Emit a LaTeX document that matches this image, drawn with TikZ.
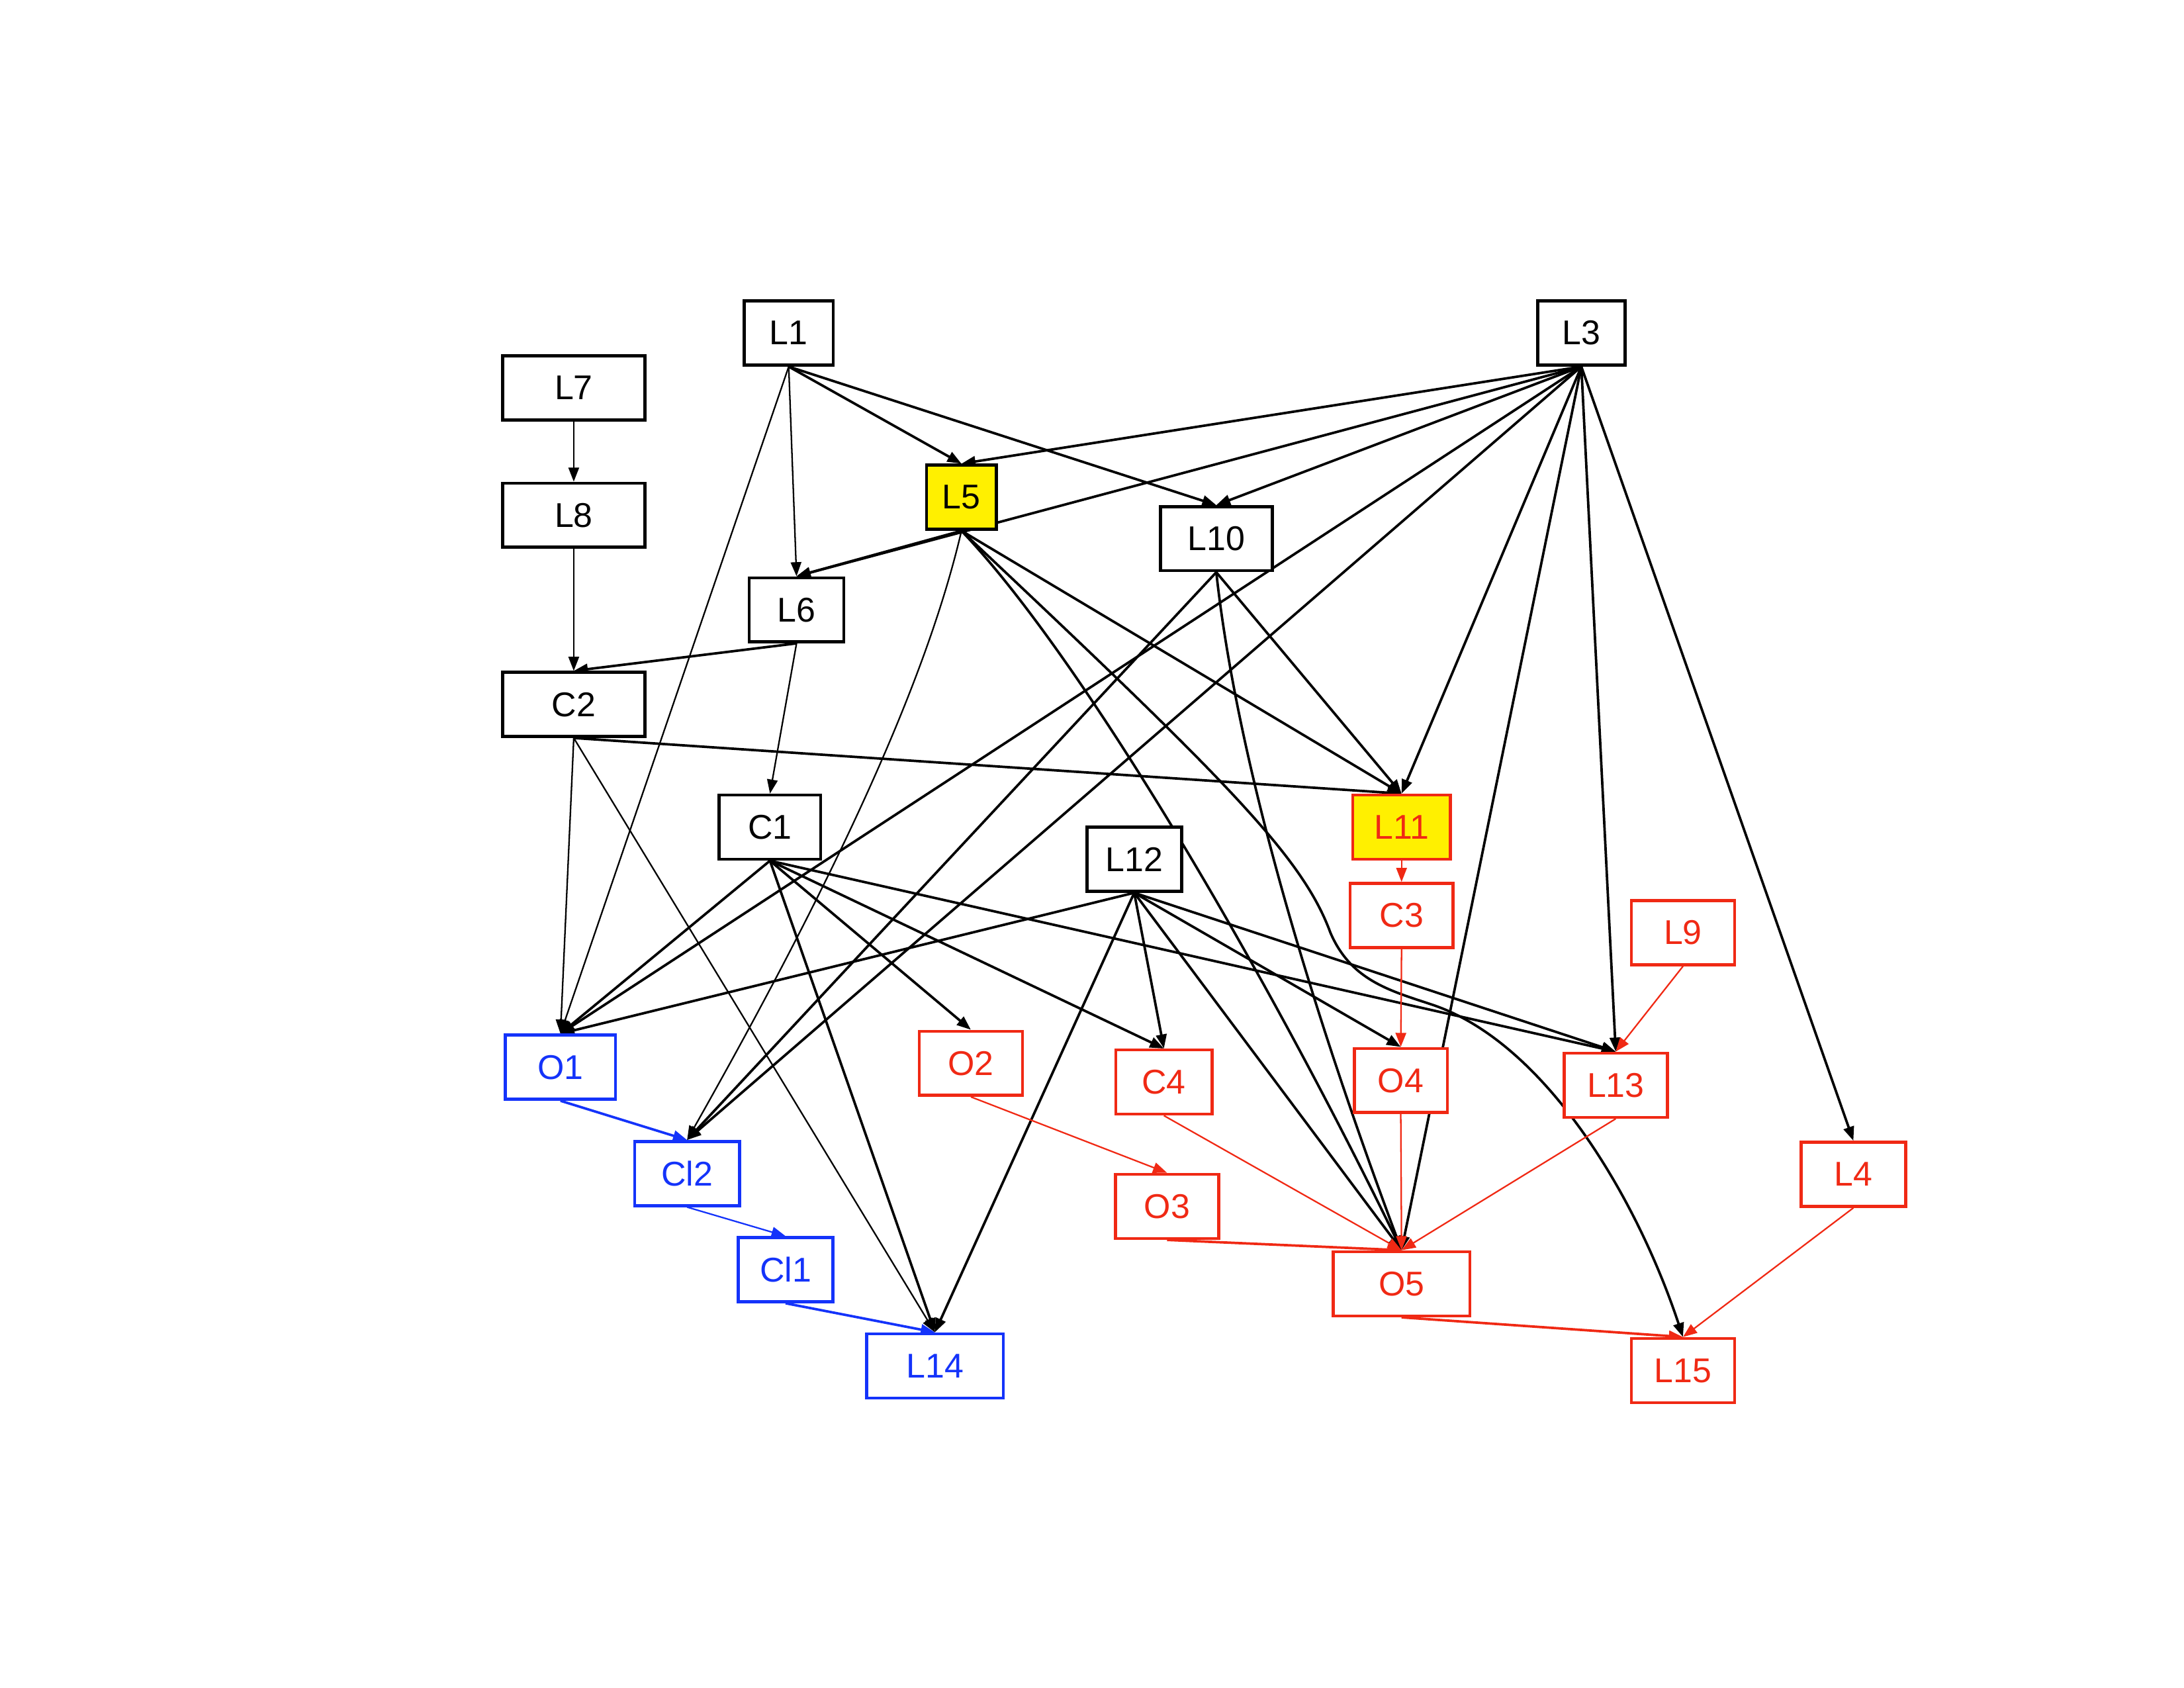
\documentclass[tikz,border=0pt]{standalone}
\usepackage{fontspec}
\setmainfont{Liberation Sans}
\usepackage{tikz}
\usepackage{tkz-graph}
\usetikzlibrary{backgrounds}
\usetikzlibrary{arrows.meta,shapes.geometric,positioning}
\tikzset{
  box/.style={shape=rectangle,minimum height=0.82cm,inner sep=0pt,line width=1.1pt,font=\fontsize{12.5}{14}\selectfont},
  kbox/.style={box,draw=cvk,fill=cfvw,text=cvk},
  kybox/.style={box,draw=cvk,fill=cfvy,text=cvk},
  rbox/.style={box,draw=cvr,fill=cfvw,text=cvr},
  rybox/.style={box,draw=cvr,fill=cfvy,text=cvr},
  bbox/.style={box,draw=cvb,fill=cfvw,text=cvb},
  dep/.style={-{Triangle[length=1.8mm,width=1.35mm]}},
}

\begin{document}
\begin{tikzpicture}
%
\useasboundingbox (0,0) rectangle (27.94cm,21.59cm);
%
\definecolor{cvk}{rgb}{0.0,0.0,0.0}
\definecolor{cvr}{rgb}{0.94,0.16,0.08}
\definecolor{cvb}{rgb}{0.08,0.2,0.98}
\definecolor{cfvw}{rgb}{1.0,1.0,1.0}
\definecolor{cfvy}{rgb}{1.0,0.94,0.0}
%
\node[kbox,minimum width=1.14cm] (L1) at (10.09cm,17.33cm) {L1};
\node[kbox,minimum width=1.12cm] (L3) at (20.23cm,17.33cm) {L3};
\node[kbox,minimum width=1.82cm] (L7) at (7.34cm,16.63cm) {L7};
\node[kbox,minimum width=1.82cm] (L8) at (7.34cm,15.0cm) {L8};
\node[kybox,minimum width=0.89cm] (L5) at (12.3cm,15.23cm) {L5};
\node[kbox,minimum width=1.43cm] (L10) at (15.56cm,14.7cm) {L10};
\node[kbox,minimum width=1.21cm] (L6) at (10.19cm,13.79cm) {L6};
\node[kbox,minimum width=1.82cm] (C2) at (7.34cm,12.58cm) {C2};
\node[kbox,minimum width=1.3cm] (C1) at (9.85cm,11.01cm) {C1};
\node[kbox,minimum width=1.21cm] (L12) at (14.51cm,10.6cm) {L12};
\node[rybox,minimum width=1.25cm] (L11) at (17.93cm,11.01cm) {L11};
\node[rbox,minimum width=1.32cm] (C3) at (17.93cm,9.88cm) {C3};
\node[rbox,minimum width=1.32cm] (L9) at (21.53cm,9.66cm) {L9};
\node[bbox,minimum width=1.41cm] (O1) at (7.17cm,7.94cm) {O1};
\node[rbox,minimum width=1.32cm] (O2) at (12.42cm,7.99cm) {O2};
\node[rbox,minimum width=1.23cm] (C4) at (14.89cm,7.75cm) {C4};
\node[rbox,minimum width=1.19cm] (O4) at (17.92cm,7.77cm) {O4};
\node[rbox,minimum width=1.32cm] (L13) at (20.67cm,7.71cm) {L13};
\node[rbox,minimum width=1.34cm] (L4) at (23.71cm,6.57cm) {L4};
\node[bbox,minimum width=1.34cm] (Cl2) at (8.79cm,6.58cm) {Cl2};
\node[rbox,minimum width=1.32cm] (O3) at (14.93cm,6.16cm) {O3};
\node[rbox,minimum width=1.75cm] (O5) at (17.93cm,5.17cm) {O5};
\node[bbox,minimum width=1.21cm] (Cl1) at (10.05cm,5.35cm) {Cl1};
\node[bbox,minimum width=1.75cm] (L14) at (11.96cm,4.12cm) {L14};
\node[rbox,minimum width=1.32cm] (L15) at (21.53cm,4.06cm) {L15};
%
\begin{scope}[on background layer]
\Edge[lw=0.55pt,style={dep,color=cvk}](L7.south)(L8.north)
\Edge[lw=0.55pt,style={dep,color=cvk}](L8.south)(C2.north)
\Edge[lw=0.9pt,style={dep,color=cvk}](L1.south)(L5.north)
\Edge[lw=0.9pt,style={dep,color=cvk}](L1.south)(L10.north)
\Edge[lw=0.55pt,style={dep,color=cvk}](L1.south)(L6.north)
\Edge[lw=0.55pt,style={dep,color=cvk}](L1.south)(O1.north)
\Edge[lw=0.9pt,style={dep,color=cvk}](L3.south)(L5.north)
\Edge[lw=0.9pt,style={dep,color=cvk}](L3.south)(L6.north)
\Edge[lw=0.9pt,style={dep,color=cvk}](L3.south)(L10.north)
\Edge[lw=0.9pt,style={dep,color=cvk}](L3.south)(O1.north)
\Edge[lw=0.9pt,style={dep,color=cvk}](L3.south)(Cl2.north)
\Edge[lw=0.9pt,style={dep,color=cvk}](L3.south)(L11.north)
\Edge[lw=0.9pt,style={dep,color=cvk}](L3.south)(O5.north)
\Edge[lw=0.9pt,style={dep,color=cvk}](L3.south)(L13.north)
\Edge[lw=0.9pt,style={dep,color=cvk}](L3.south)(L4.north)
\Edge[lw=0.9pt,style={dep,color=cvk}](L5.south)(L6.north)
\Edge[lw=0.9pt,style={dep,color=cvk}](L5.south)(L11.north)
\Edge[lw=0.9pt,style={dep,color=cvk}](L10.south)(Cl2.north)
\Edge[lw=0.9pt,style={dep,color=cvk}](L10.south)(L11.north)
\Edge[lw=0.9pt,style={dep,color=cvk}](L6.south)(C2.north)
\Edge[lw=0.55pt,style={dep,color=cvk}](L6.south)(C1.north)
\Edge[lw=0.55pt,style={dep,color=cvk}](C2.south)(O1.north)
\Edge[lw=0.55pt,style={dep,color=cvk}](C2.south)(L14.north)
\Edge[lw=0.9pt,style={dep,color=cvk}](C2.south)(L11.north)
\Edge[lw=0.9pt,style={dep,color=cvk}](C1.south)(O1.north)
\Edge[lw=0.9pt,style={dep,color=cvk}](C1.south)(O2.north)
\Edge[lw=0.9pt,style={dep,color=cvk}](C1.south)(C4.north)
\Edge[lw=0.9pt,style={dep,color=cvk}](C1.south)(L13.north)
\Edge[lw=0.9pt,style={dep,color=cvk}](C1.south)(L14.north)
\Edge[lw=0.9pt,style={dep,color=cvk}](L12.south)(O1.north)
\Edge[lw=0.9pt,style={dep,color=cvk}](L12.south)(L14.north)
\Edge[lw=0.9pt,style={dep,color=cvk}](L12.south)(C4.north)
\Edge[lw=0.9pt,style={dep,color=cvk}](L12.south)(O5.north)
\Edge[lw=0.9pt,style={dep,color=cvk}](L12.south)(O4.north)
\Edge[lw=0.9pt,style={dep,color=cvk}](L12.south)(L13.north)
% curved ones
\draw[dep,color=cvk,line width=0.55pt] (L5.south) .. controls (11.85,12.87) and (10.69,10.37) .. (Cl2.north);
\draw[dep,color=cvk,line width=0.9pt] (L5.south) .. controls (13.81,13.22) and (16.13,9.3) .. (O5.north);
\draw[dep,color=cvk,line width=0.9pt] (L10.south) .. controls (15.77,12.33) and (16.48,9.48) .. (O5.north);
\draw[dep,color=cvk,line width=0.9pt] (L5.south) .. controls (15.68,11.62) and (16.66,10.64) .. (17.02,9.66)
  .. controls (17.29,9.03) and (17.82,8.91) .. (18.35,8.73) .. controls (19.78,8.23) and (20.94,6.27) .. (L15.north);
%
\Edge[lw=0.55pt,style={dep,color=cvr}](L11.south)(C3.north)
\Edge[lw=0.55pt,style={dep,color=cvr}](C3.south)(O4.north)
\Edge[lw=0.55pt,style={dep,color=cvr}](L9.south)(L13.north)
\Edge[lw=0.55pt,style={dep,color=cvr}](O2.south)(O3.north)
\Edge[lw=0.9pt,style={dep,color=cvr}](O3.south)(O5.north)
\Edge[lw=0.55pt,style={dep,color=cvr}](C4.south)(O5.north)
\Edge[lw=0.55pt,style={dep,color=cvr}](O4.south)(O5.north)
\Edge[lw=0.55pt,style={dep,color=cvr}](L13.south)(O5.north)
\Edge[lw=0.9pt,style={dep,color=cvr}](O5.south)(L15.north)
\Edge[lw=0.55pt,style={dep,color=cvr}](L4.south)(L15.north)
\Edge[lw=0.9pt,style={dep,color=cvb}](O1.south)(Cl2.north)
\Edge[lw=0.55pt,style={dep,color=cvb}](Cl2.south)(Cl1.north)
\Edge[lw=0.9pt,style={dep,color=cvb}](Cl1.south)(L14.north)
\end{scope}
%
\end{tikzpicture}
\end{document}
